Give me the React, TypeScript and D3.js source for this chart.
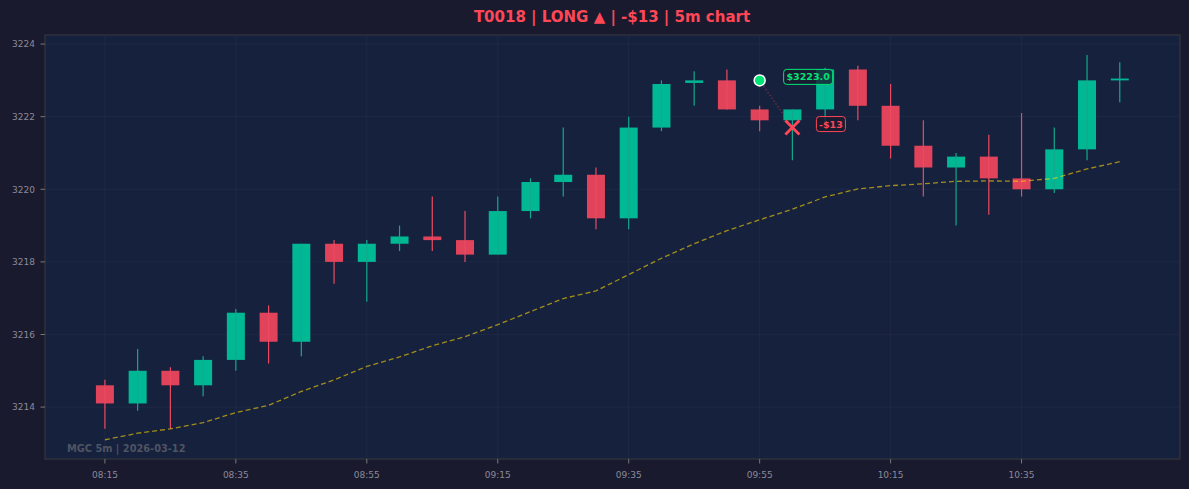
import * as d3 from "d3";

// 5m candles, MGC, 2026-03-12
const times = [
  "08:15", "08:20", "08:25", "08:30", "08:35", "08:40", "08:45", "08:50",
  "08:55", "09:00", "09:05", "09:10", "09:15", "09:20", "09:25", "09:30",
  "09:35", "09:40", "09:45", "09:50", "09:55", "10:00", "10:05", "10:10",
  "10:15", "10:20", "10:25", "10:30", "10:35", "10:40", "10:45", "10:50",
];
const opens = [
  3214.6, 3214.1, 3215.0, 3214.6, 3215.3, 3216.6, 3215.8, 3218.5,
  3218.0, 3218.5, 3218.7, 3218.6, 3218.2, 3219.4, 3220.2, 3220.4,
  3219.2, 3221.7, 3222.93, 3223.0, 3222.2, 3221.9, 3222.2, 3223.3,
  3222.3, 3221.2, 3220.6, 3220.9, 3220.3, 3220.0, 3221.1, 3223.0,
];
const highs = [
  3214.75, 3215.6, 3215.1, 3215.4, 3216.7, 3216.8, 3218.5, 3218.6,
  3218.6, 3219.0, 3219.8, 3219.4, 3219.8, 3220.3, 3221.7, 3220.6,
  3222.0, 3223.0, 3223.25, 3223.3, 3222.3, 3222.2, 3223.35, 3223.4,
  3222.9, 3221.9, 3221.0, 3221.5, 3222.1, 3221.7, 3223.7, 3223.5,
];
const lows = [
  3213.4, 3213.9, 3213.4, 3214.3, 3215.0, 3215.2, 3215.4, 3217.4,
  3216.9, 3218.3, 3218.3, 3218.0, 3218.2, 3219.2, 3219.8, 3218.9,
  3218.9, 3221.6, 3222.3, 3222.2, 3221.6, 3220.8, 3221.65, 3221.9,
  3220.85, 3219.8, 3219.0, 3219.3, 3219.8, 3219.9, 3220.8, 3222.4,
];
const closes = [
  3214.1, 3215.0, 3214.6, 3215.3, 3216.6, 3215.8, 3218.5, 3218.0,
  3218.5, 3218.7, 3218.6, 3218.2, 3219.4, 3220.2, 3220.4, 3219.2,
  3221.7, 3222.9, 3223.0, 3222.2, 3221.9, 3222.2, 3223.3, 3222.3,
  3221.2, 3220.6, 3220.9, 3220.3, 3220.0, 3221.1, 3223.0, 3223.05,
];
const vwap = [
  3213.1, 3213.28, 3213.4, 3213.57, 3213.85, 3214.05, 3214.43, 3214.75,
  3215.12, 3215.38, 3215.69, 3215.94, 3216.27, 3216.63, 3216.99, 3217.2,
  3217.65, 3218.1, 3218.5, 3218.86, 3219.16, 3219.45, 3219.79, 3220.01,
  3220.1, 3220.15, 3220.22, 3220.23, 3220.22, 3220.3, 3220.56, 3220.76,
];

const yTicks = [3214, 3216, 3218, 3220, 3222, 3224];
const xTickLabels = ["08:15", "08:35", "08:55", "09:15", "09:35", "09:55", "10:15", "10:35"];

const tradeId = "T0018";
const side = "LONG";
const pnlLabel = "-$13";
const entryTime = "09:55";
const entryPrice = 3223.0;
const exitTime = "10:00";
const exitPrice = 3221.7;

const W = 1189;
const H = 489;
const plot = { left: 45, right: 1180, top: 35, bottom: 459 };

const BG = "#1a1a2e";
const PANEL = "#16213e";
const UP = "#00b894";
const DOWN = "#e0435a";
const RED = "#ff4757";
const ENTRY = "#00e676";
const FONT = "'DejaVu Sans', sans-serif";

export default function App() {
  const x = d3.scaleLinear().domain([-1.83, 32.84]).range([plot.left, plot.right]);
  const y = d3.scaleLinear().domain([3212.57, 3224.25]).range([plot.bottom, plot.top]);
  const bodyW = (x(1) - x(0)) * 0.55;

  const line = d3
    .line<number>()
    .x((_, i) => x(i))
    .y((d) => y(d));

  const ei = times.indexOf(entryTime);
  const xi = times.indexOf(exitTime);
  const ex = x(ei), ey = y(entryPrice);
  const xx = x(xi), xy = y(exitPrice);
  const xs = 7;

  return (
    <svg
      width={W}
      height={H}
      style={{ position: "absolute", left: 0, top: 0, display: "block" }}
      fontFamily={FONT}
    >
      <rect width={W} height={H} fill={BG} />
      <text x={612} y={22} textAnchor="middle" fontSize={15} fontWeight="bold" fill={RED}>
        {`${tradeId} | ${side} ▲ | ${pnlLabel} | 5m chart`}
      </text>

      <rect
        x={plot.left}
        y={plot.top}
        width={plot.right - plot.left}
        height={plot.bottom - plot.top}
        fill={PANEL}
      />

      {/* grid */}
      <g stroke="#ffffff" strokeOpacity={0.035} strokeWidth={1}>
        {yTicks.map((t) => (
          <line key={t} x1={plot.left} x2={plot.right} y1={y(t)} y2={y(t)} />
        ))}
        {xTickLabels.map((t) => (
          <line key={t} x1={x(times.indexOf(t))} x2={x(times.indexOf(t))} y1={plot.top} y2={plot.bottom} />
        ))}
      </g>

      {/* entry → exit connector */}
      <line
        x1={ex}
        y1={ey}
        x2={xx}
        y2={xy}
        stroke={RED}
        strokeOpacity={0.35}
        strokeWidth={1.4}
        strokeDasharray="1.5 2"
      />

      {/* candles */}
      <g>
        {times.map((t, i) => {
          const up = closes[i] >= opens[i];
          const c = up ? UP : DOWN;
          const top = y(Math.max(opens[i], closes[i]));
          const bot = y(Math.min(opens[i], closes[i]));
          return (
            <g key={t}>
              <rect x={x(i) - bodyW / 2} y={top} width={bodyW} height={Math.max(bot - top, 1)} fill={c} />
              <line
                x1={x(i)}
                x2={x(i)}
                y1={y(highs[i])}
                y2={y(lows[i])}
                stroke={up ? "#14a88c" : "#ec4a62"}
                strokeWidth={1.2}
              />
            </g>
          );
        })}
      </g>

      <path
        d={line(vwap) ?? ""}
        fill="none"
        stroke="#ffd700"
        strokeOpacity={0.6}
        strokeWidth={1.3}
        strokeDasharray="5 3"
      />

      {/* markers */}
      <circle cx={ex} cy={ey} r={5.5} fill={ENTRY} stroke="#ffffff" strokeWidth={1.5} />
      <g stroke={RED} strokeWidth={2.8}>
        <line x1={xx - xs} y1={xy - xs} x2={xx + xs} y2={xy + xs} />
        <line x1={xx - xs} y1={xy + xs} x2={xx + xs} y2={xy - xs} />
      </g>

      <g fontSize={9.5} fontWeight="bold">
        <rect x={ex + 24} y={ey - 11} width={49} height={15} rx={3} fill={BG} fillOpacity={0.8} stroke={ENTRY} strokeWidth={1} />
        <text x={ex + 48.5} y={ey} textAnchor="middle" fill={ENTRY}>{`$${entryPrice.toFixed(1)}`}</text>
        <rect x={xx + 24} y={xy - 11} width={29} height={15} rx={3} fill={BG} fillOpacity={0.8} stroke={RED} strokeWidth={1} />
        <text x={xx + 38.5} y={xy} textAnchor="middle" fill={RED}>{pnlLabel}</text>
      </g>

      <text x={67} y={452} fontSize={9.8} fontWeight="bold" fill="#4f5462">
        MGC 5m | 2026-03-12
      </text>

      {/* spines */}
      <rect
        x={plot.left}
        y={plot.top}
        width={plot.right - plot.left}
        height={plot.bottom - plot.top}
        fill="none"
        stroke="#3a3a3e"
        strokeWidth={1}
      />

      {/* axes */}
      <g fontSize={9} fill="#8a8a99">
        {yTicks.map((t) => (
          <g key={t}>
            <line x1={plot.left - 4.5} x2={plot.left} y1={y(t)} y2={y(t)} stroke="#777" />
            <text x={35} y={y(t) + 3.3} textAnchor="end">{t}</text>
          </g>
        ))}
        {xTickLabels.map((t) => {
          const px = x(times.indexOf(t));
          return (
            <g key={t}>
              <line x1={px} x2={px} y1={plot.bottom} y2={plot.bottom + 4.5} stroke="#777" />
              <text x={px} y={478} textAnchor="middle">{t}</text>
            </g>
          );
        })}
      </g>
    </svg>
  );
}
